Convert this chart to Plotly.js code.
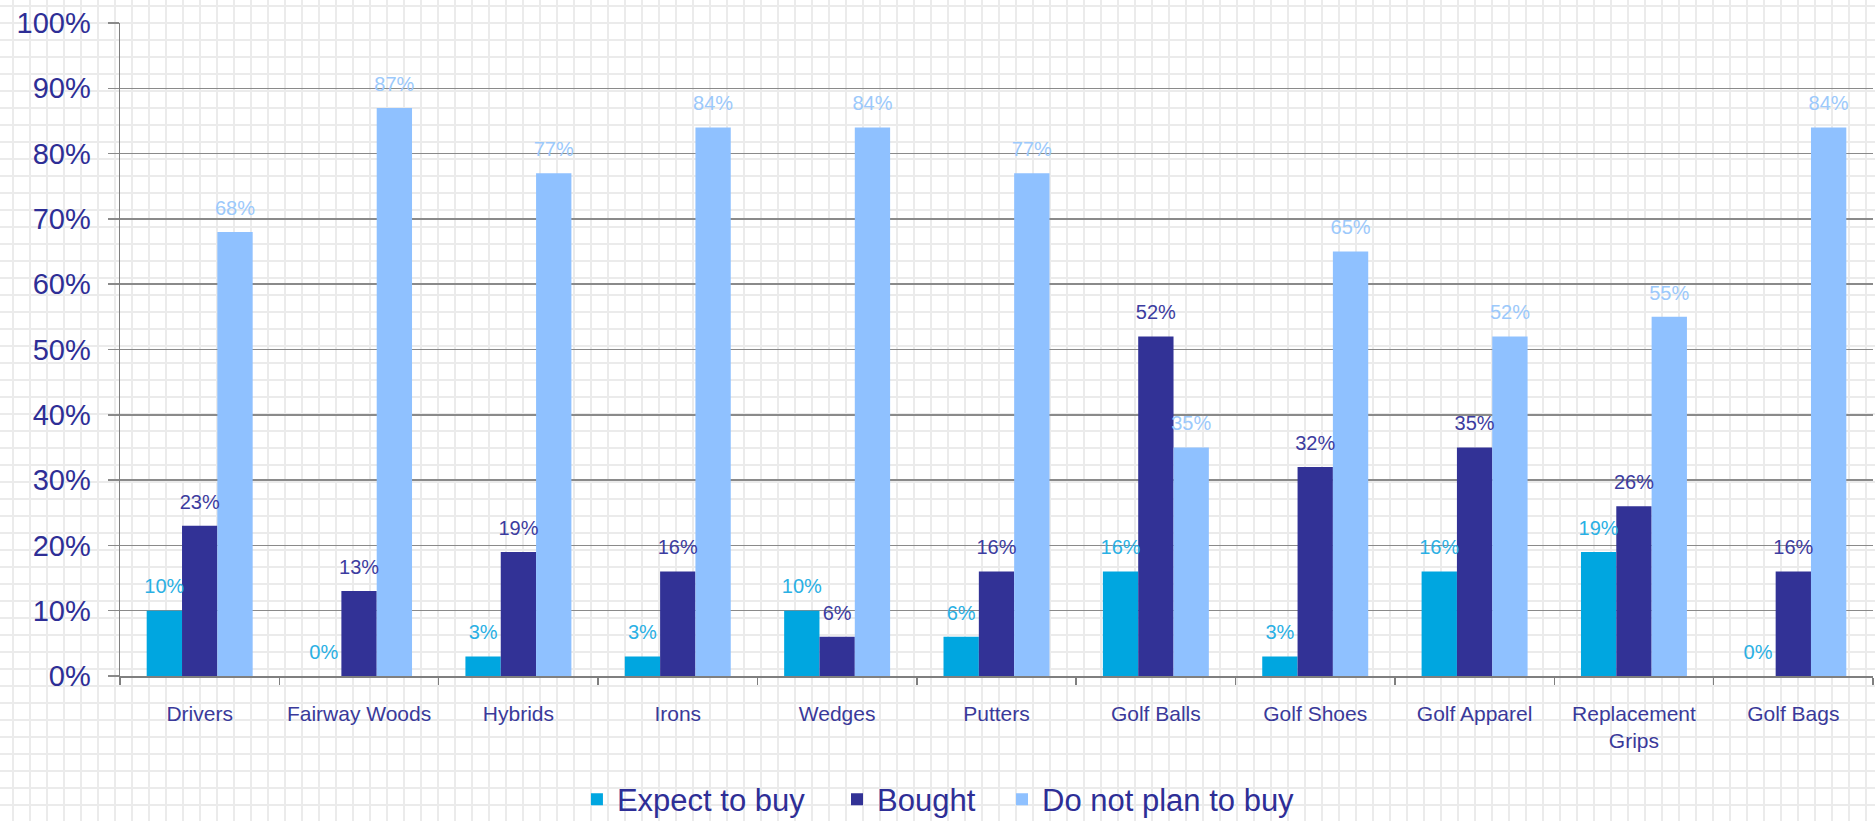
<!DOCTYPE html>
<html>
<head>
<meta charset="utf-8">
<script src="https://cdn.plot.ly/plotly-3.0.1.min.js"></script>
<style>
html, body { margin:0; padding:0; width:1875px; height:821px; overflow:hidden;
  background-color:#ffffff;
  background-image:
    linear-gradient(to right, #ebebeb 2px, transparent 2px),
    linear-gradient(to bottom, #ebebeb 2px, transparent 2px);
  background-size:17px 17px;
  background-position:12px 5px;
}
#chart { width:1875px; height:821px; }
</style>
</head>
<body>
<div id="chart"></div>
<script>
const categories = ["Drivers", "Fairway Woods", "Hybrids", "Irons", "Wedges", "Putters",
  "Golf Balls", "Golf Shoes", "Golf Apparel", "Replacement<br>Grips", "Golf Bags"];
const expectToBuy = [0.10, 0.00, 0.03, 0.03, 0.10, 0.06, 0.16, 0.03, 0.16, 0.19, 0.00];
const bought = [0.23, 0.13, 0.19, 0.16, 0.06, 0.16, 0.52, 0.32, 0.35, 0.26, 0.16];
const doNotPlan = [0.68, 0.87, 0.77, 0.84, 0.84, 0.77, 0.35, 0.65, 0.52, 0.55, 0.84];
const seriesNames = ["Expect to buy", "Bought", "Do not plan to buy"];
const yTickVals = [0, 0.1, 0.2, 0.3, 0.4, 0.5, 0.6, 0.7, 0.8, 0.9, 1.0];

const barColors = ["#00A6E0", "#323296", "#8FC1FF"];
const labelColors = ["#2AB0E4", "#3C3CA0", "#9CC9FB"];
const seriesData = [expectToBuy, bought, doNotPlan];
const legendIds = ['legend', 'legend2', 'legend3'];

const traces = [];
seriesData.forEach((vals, i) => {
  traces.push({
    type: 'bar', x: categories, y: vals, name: seriesNames[i],
    marker: {color: barColors[i]}, offsetgroup: 'g' + i,
    legend: legendIds[i], hoverinfo: 'skip'
  });
});
seriesData.forEach((vals, i) => {
  traces.push({
    type: 'scatter', mode: 'markers+text', x: categories, y: vals,
    text: vals.map(v => Math.round(v * 100) + '%'),
    textposition: 'top center', offsetgroup: 'g' + i,
    textfont: {family: 'Liberation Sans, Arial, sans-serif', size: 20, color: labelColors[i]},
    showlegend: false, cliponaxis: false, hoverinfo: 'skip',
    marker: {size: 18, opacity: 0, color: barColors[i]}
  });
});

const legendFont = {size: 31, color: '#2e2e96'};
function legendAt(x) {
  return {
    orientation: 'h', xref: 'container', yref: 'container',
    x: x, xanchor: 'left', y: 0.026, yanchor: 'middle',
    font: legendFont, bgcolor: 'rgba(0,0,0,0)', itemwidth: 30
  };
}

const layout = {
  width: 1875, height: 821,
  paper_bgcolor: 'rgba(0,0,0,0)', plot_bgcolor: 'rgba(0,0,0,0)',
  margin: {l: 120, r: 2, t: 23, b: 145},
  barmode: 'group', bargap: 0.335, bargroupgap: 0,
  scattermode: 'group', scattergap: 0.335,
  font: {family: 'Liberation Sans, Arial, sans-serif', color: '#333399'},
  xaxis: {
    type: 'category', showgrid: false, showline: true, linecolor: '#7f7f7f', linewidth: 1.5,
    ticks: 'outside', tickson: 'boundaries', ticklen: 7, tickcolor: '#7f7f7f', tickwidth: 1.5,
    tickfont: {size: 21, color: '#3a3a9a'}, ticklabelstandoff: 18, zeroline: false
  },
  yaxis: {
    range: [0, 1], tickvals: yTickVals, tickformat: '.0%',
    showgrid: true, gridcolor: '#8a8a8a', gridwidth: 1.5,
    showline: true, linecolor: '#7f7f7f', linewidth: 1.5,
    ticks: 'outside', ticklen: 11, tickcolor: '#8a8a8a', tickwidth: 1.5,
    tickfont: {size: 29, color: '#2e2e96'}, ticklabelstandoff: 11, zeroline: false
  },
  legend: legendAt(0.3077),
  legend2: legendAt(0.4464),
  legend3: legendAt(0.5344),
  showlegend: true
};

Plotly.newPlot('chart', traces, layout, {displayModeBar: false, staticPlot: true});
</script>
</body>
</html>
